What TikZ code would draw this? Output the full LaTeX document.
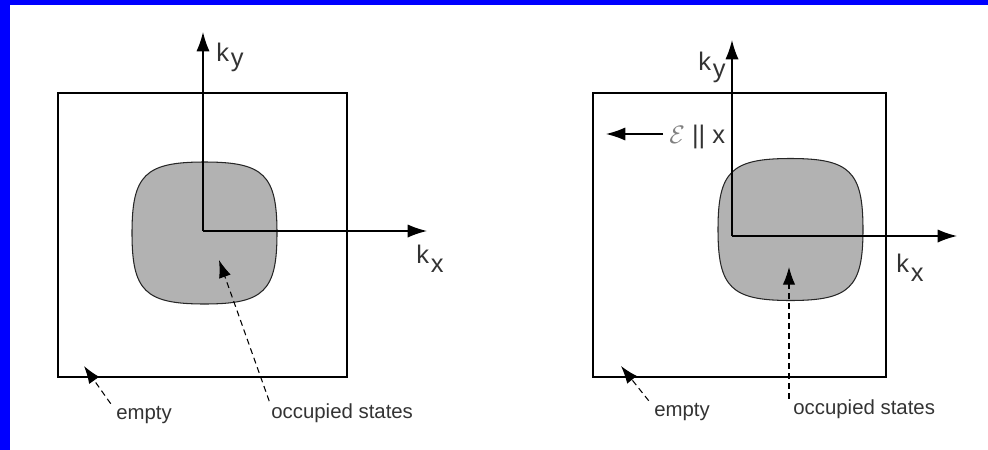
\documentclass[tikz,border=0pt]{standalone}
\usepackage{fontspec}
\setsansfont{Liberation Sans}
\usetikzlibrary{arrows.meta}

\tikzset{
  axis/.style={line width=0.75pt,-{Latex[length=11pt,width=7.5pt]}},
  pointer/.style={line width=0.6pt,dash pattern=on 3.4pt off 2.3pt,-{Latex[length=10pt,width=7pt]}},
  blob/.style={fill=black!30,draw=black!85,line width=0.6pt},
  zone/.style={line width=0.75pt},
  klabel/.style={font=\sffamily\fontsize{14.5}{16}\selectfont,text=black!80,inner sep=0pt},
  tag/.style={font=\sffamily\fontsize{11.6}{14}\selectfont,text=black!80,inner sep=0pt},
}
\newcommand{\kcomp}[2]{k\kern1pt\raisebox{-#2}{#1}}
% squircle of half sizes 72.5 x 71 round the current origin
\newcommand{\seapath}{(0,-71) .. controls (-59.5,-71) and (-72.5,-58) .. (-72.5,0)
  .. controls (-72.5,58) and (-59.5,71) .. (0,71)
  .. controls (59.5,71) and (72.5,58) .. (72.5,0)
  .. controls (72.5,-58) and (59.5,-71) .. (0,-71) -- cycle}

\begin{document}
\begin{tikzpicture}[x=0.02cm,y=-0.02cm]
    \useasboundingbox (0,0) rectangle (988,450);
    \fill[blue] (0,0) rectangle (988,5);
    \fill[blue] (0,0) rectangle (10,450);
    % --- left: equilibrium Fermi sea
    \begin{scope}
      \draw[zone] (58,93) rectangle (347,377);
      \begin{scope}[shift={(204.5,233)}]
        \filldraw[blob] \seapath;
      \end{scope}
      \coordinate (oL) at (203,231);
      \coordinate (kyL) at (203,32);
      \coordinate (kxL) at (427,231);
      \draw[axis] (oL) -- (kyL);
      \draw[axis] (oL) -- (kxL);
      \node[klabel,anchor=base west] (kyLab) at (216,61) {\kcomp{y}{3pt}};
      \node[klabel,anchor=base west] (kxLab) at (416,263) {\kcomp{x}{5.5pt}};
      \coordinate (occTipL) at (219,260);
      \coordinate (emptyTipL) at (84,366);
      \node[tag,anchor=base west] (occL) at (271,418) {occupied states};
      \node[tag,anchor=base west] (emptyL) at (116,419) {empty};
      \draw[pointer] ([xshift=-1pt,yshift=1pt]occL.north west) -- (occTipL);
      \draw[pointer] ([xshift=-3pt,yshift=1pt]emptyL.north west) -- (emptyTipL);
    \end{scope}
    % --- right: shifted sea in a field along x
    \begin{scope}
      \draw[zone] (593,93) rectangle (886,377);
      \begin{scope}[shift={(790.5,229.5)}]
        \filldraw[blob] \seapath;
      \end{scope}
      \coordinate (oR) at (732,236);
      \coordinate (kyR) at (732,40);
      \coordinate (kxR) at (957,236);
      \draw[axis] (oR) -- (kyR);
      \draw[axis] (oR) -- (kxR);
      \node[klabel,anchor=base west] (kyRab) at (698,70) {\kcomp{y}{4pt}};
      \node[klabel,anchor=base west] (kxRab) at (896,272) {\kcomp{x}{5.5pt}};
      \node[klabel,anchor=base west] (field) at (669,143)
        {{\color{black!50}$\mathcal{E}$}\kern4pt||\kern4pt x};
      \coordinate (fieldTip) at (606,134);
      \draw[axis] (field.west |- fieldTip) ++(-6,0) -- (fieldTip);
      \coordinate (occTipR) at (789,267);
      \coordinate (emptyTipR) at (621,366);
      \node[tag,anchor=base west] (occR) at (793,414) {occupied states};
      \node[tag,anchor=base west] (emptyR) at (654,416) {empty};
      \draw[pointer] (occTipR |- occR.north west) -- (occTipR);
      \draw[pointer] ([xshift=-3pt,yshift=1pt]emptyR.north west) -- (emptyTipR);
    \end{scope}
  \end{tikzpicture}
\end{document}
